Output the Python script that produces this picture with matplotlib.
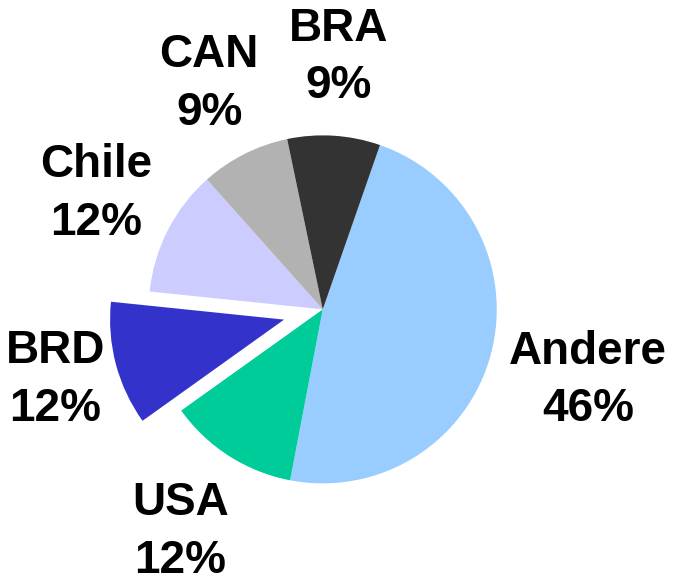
import matplotlib
matplotlib.use('Agg')
import matplotlib.pyplot as plt
import numpy as np

# slices, clockwise starting from the top right
countries = ['Andere', 'USA', 'BRD', 'Chile', 'CAN', 'BRA']
shares = [47.6, 12.1, 11.5, 11.75, 8.3, 8.6]
pct_labels = ['46%', '12%', '12%', '12%', '9%', '9%']
colors = ['#99CCFF', '#00CC99', '#3333CC', '#CCCCFF', '#B2B2B2', '#333333']
explode = [0, 0, 0.23, 0, 0, 0]
label_dist = [1.58, 1.52, 1.36, 1.46, 1.45, 1.45]

plt.rcParams['font.family'] = ['Liberation Sans', 'DejaVu Sans']

fig = plt.figure(figsize=(6.73, 5.85), dpi=100)
ax = fig.add_axes([0, 0, 1, 1])

wedges, _ = ax.pie(shares, colors=colors, explode=explode, startangle=70.8,
                   counterclock=False, radius=1.0)

for w, name, pct, d in zip(wedges, countries, pct_labels, label_dist):
    mid = np.deg2rad((w.theta1 + w.theta2) / 2)
    cx, cy = w.center
    ax.text(cx + d * np.cos(mid), cy + d * np.sin(mid), name + '\n' + pct,
            ha='center', va='center', fontsize=33, fontweight='bold',
            linespacing=1.4)

ax.set_aspect('auto')
ax.set_xlim(-1.855, 2.013)
ax.set_ylim(-1.584, 1.778)
ax.axis('off')

fig.savefig('out.png', dpi=100)
